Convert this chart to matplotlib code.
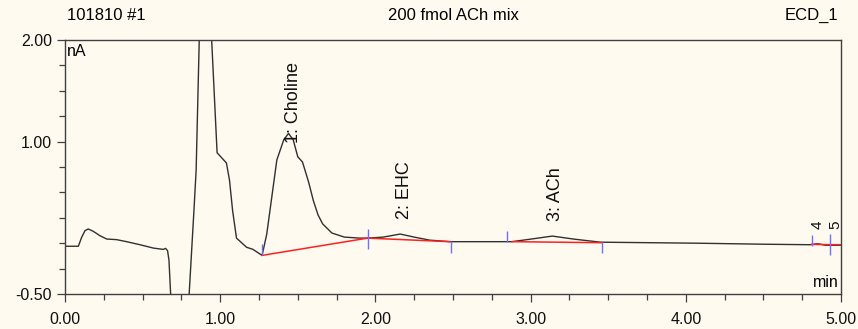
import matplotlib
matplotlib.use("Agg")
import matplotlib.pyplot as plt
from matplotlib.ticker import MultipleLocator, FixedLocator
import numpy as np

# chromatogram trace (min, nA)
time_min = [0.00, 0.086, 0.107, 0.129, 0.150, 0.182, 0.225, 0.269, 0.333, 0.397, 0.483,
            0.569, 0.633, 0.648, 0.661, 0.670, 0.681, 0.70, 0.74, 0.79, 0.80, 0.83, 0.845,
            0.865, 0.90, 0.945, 0.98, 1.01, 1.04, 1.06, 1.08, 1.105, 1.17, 1.21, 1.24, 1.27,
            1.30, 1.365, 1.41, 1.44, 1.47, 1.50, 1.53, 1.57, 1.60, 1.63, 1.66, 1.72, 1.80,
            1.90, 1.95, 2.05, 2.16, 2.25, 2.35, 2.48, 2.88, 3.00, 3.14, 3.28, 3.45, 4.07,
            4.50, 4.80, 4.85, 4.90, 5.00]
signal_nA = [-0.03, -0.03, 0.057, 0.124, 0.14, 0.117, 0.074, 0.041, 0.035, 0.015, -0.015,
             -0.048, -0.061, -0.051, -0.074, -0.17, -0.51, -0.90, -1.20, -0.60, -0.50, 0.30, 0.72,
             2.00, 2.60, 2.00, 0.89, 0.84, 0.79, 0.62, 0.32, 0.05, -0.04, -0.06, -0.09, -0.12,
             0.09, 0.82, 1.02, 1.08, 1.02, 0.85, 0.80, 0.60, 0.42, 0.28, 0.19, 0.10, 0.06,
             0.05, 0.05, 0.06, 0.09, 0.06, 0.03, 0.015, 0.015, 0.04, 0.07, 0.04, 0.01, 0.00,
             -0.01, -0.015, -0.005, -0.02, -0.02]

# integration baselines (start t, start v, end t, end v)
base_t0 = [1.27, 1.95, 2.88, 4.81]
base_v0 = [-0.12, 0.05, 0.015, -0.012]
base_t1 = [1.95, 2.48, 3.46, 5.00]
base_v1 = [0.05, 0.015, 0.005, -0.015]

# peak delimiter marks (t, low, high)
mark_t = [1.27, 1.95, 2.485, 2.85, 3.46, 4.81, 4.93]
mark_lo = [-0.12, -0.06, -0.10, 0.01, -0.10, -0.025, -0.12]
mark_hi = [-0.01, 0.14, 0.02, 0.12, 0.01, 0.08, 0.09]

# peak labels
peak_names = ["1: Choline", "2: EHC", "3: ACh", "4", "5"]
peak_t = [1.47, 2.19, 3.16, 4.85, 4.965]
peak_y = [0.99, 0.24, 0.22, 0.14, 0.14]
peak_size = [13, 13, 13, 11, 11]

bg = "#fffaf0"
plt.rcParams["font.family"] = ["Liberation Sans", "DejaVu Sans"]

fig = plt.figure(figsize=(8.58, 3.29), dpi=100, facecolor=bg)
ax = fig.add_axes([65 / 858, 1 - 294 / 329, 776 / 858, 254 / 329], facecolor=bg)

ax.plot(time_min, signal_nA, color="#303030", lw=1.0)
for a, b, c, d in zip(base_t0, base_v0, base_t1, base_v1):
    ax.plot([a, c], [b, d], color="#ff2020", lw=1.1)
ax.vlines(mark_t, mark_lo, mark_hi, color="#7070ff", lw=1.0)

for name, t, y, fs in zip(peak_names, peak_t, peak_y, peak_size):
    ax.text(t, y, name, rotation=90, ha="center", va="bottom", fontsize=fs,
            color="#101010", clip_on=True)

ax.set_xlim(0, 5)
ax.set_ylim(-0.5, 2.0)
ax.xaxis.set_major_locator(MultipleLocator(1))
ax.xaxis.set_minor_locator(MultipleLocator(0.25))
ax.yaxis.set_major_locator(FixedLocator([-0.5, 1.0, 2.0]))
ax.yaxis.set_minor_locator(MultipleLocator(0.25))
ax.xaxis.set_major_formatter(lambda v, p: f"{v:.2f}")
ax.yaxis.set_major_formatter(lambda v, p: f"{v:.2f}")
ax.tick_params(axis="x", which="major", pad=7)
ax.tick_params(axis="both", which="major", length=6, width=0.9, color="#404040",
               labelsize=11.5, labelcolor="#101010")
ax.tick_params(axis="both", which="minor", length=4, width=0.9, color="#404040")
for s in ax.spines.values():
    s.set_color("#404040")
    s.set_linewidth(1.0)

ax.text(0.003, 0.985, "nA", transform=ax.transAxes, ha="left", va="top", fontsize=11.5)
ax.text(0.997, 0.015, "min", transform=ax.transAxes, ha="right", va="bottom", fontsize=11.5)

fig.text(67 / 858, 1 - 20 / 329, "101810 #1", ha="left", va="baseline", fontsize=12)
fig.text(453 / 858, 1 - 20 / 329, "200 fmol ACh mix", ha="center", va="baseline", fontsize=12)
fig.text(838 / 858, 1 - 20 / 329, "ECD_1", ha="right", va="baseline", fontsize=12)

fig.savefig("out.png", dpi=100, facecolor=bg)
